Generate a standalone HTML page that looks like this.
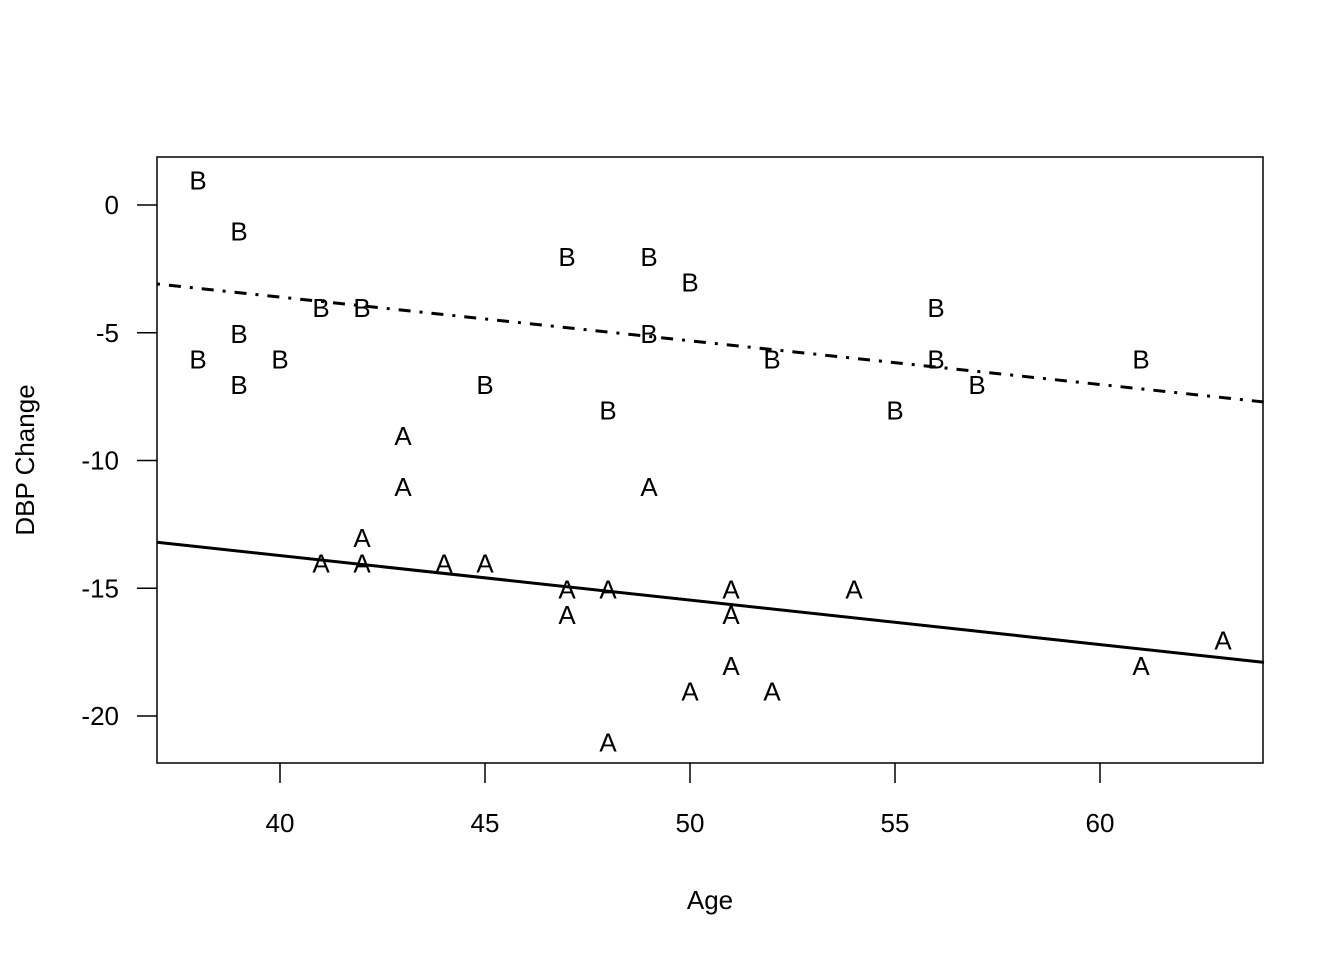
<!DOCTYPE html>
<html><head><meta charset="utf-8"><style>body{margin:0;background:#fff}svg{display:block}text{font-family:"Liberation Sans",sans-serif;font-size:26px;fill:#000}</style></head>
<body>
<svg id="chart" width="1344" height="960" xmlns="http://www.w3.org/2000/svg">
<rect x="157" y="157" width="1106" height="606" fill="none" stroke="#000" stroke-width="1.5"/>
<g id="axes"></g>
<g id="marks"></g>
<text x="710" y="900" dominant-baseline="central" text-anchor="middle">Age</text>
<text transform="translate(25,460) rotate(-90)" dominant-baseline="central" text-anchor="middle">DBP Change</text>
</svg>
<script>
const groupBAges = [38,39,47,49,50,41,42,56,39,49,38,40,52,56,61,39,45,57,48,55];
const groupBValues = [1,-1,-2,-2,-3,-4,-4,-4,-5,-5,-6,-6,-6,-6,-6,-7,-7,-7,-8,-8];
const groupAAges = [43,43,49,42,41,42,44,45,47,48,51,54,47,51,63,51,61,50,52,48];
const groupAValues = [-9,-11,-11,-13,-14,-14,-14,-14,-15,-15,-15,-15,-16,-16,-17,-18,-18,-19,-19,-21];
const fitAEnds = [-13.2,-17.9];
const fitBEnds = [-3.09,-7.71];
const xTicks = [40,45,50,55,60];
const yTicks = [0,-5,-10,-15,-20];
const xMin = 37, xMax = 64;
const X = a => 280 + 41*(a-40);
const Y = v => 205 - 25.55*v;
const NS = "http://www.w3.org/2000/svg";
const axes = document.getElementById('axes'), marks = document.getElementById('marks');
function mk(tag, attrs, parent, txt){const e=document.createElementNS(NS,tag);for(const k in attrs)e.setAttribute(k,attrs[k]);if(txt!==undefined)e.textContent=txt;parent.appendChild(e);return e;}
xTicks.forEach(t=>{
  const l=mk('line',{x1:X(t),x2:X(t),y1:763,y2:783,stroke:'#000','stroke-width':1.5},axes);
  
  
  const s=mk('text',{x:X(t),y:823,'text-anchor':'middle','dominant-baseline':'central'},axes,String(t));
  
  
});
yTicks.forEach(t=>{
  const l=mk('line',{x1:137,x2:157,y1:Y(t),y2:Y(t),stroke:'#000','stroke-width':1.5},axes);
  
  
  const s=mk('text',{x:119,y:Y(t),'text-anchor':'end','dominant-baseline':'central'},axes,String(t));
  
  
});
const la=mk('line',{x1:X(xMin),y1:Y(fitAEnds[0]),x2:X(xMax),y2:Y(fitAEnds[1]),stroke:'#000','stroke-width':3},marks);


const lb=mk('line',{x1:X(xMin),y1:Y(fitBEnds[0]),x2:X(xMax),y2:Y(fitBEnds[1]),stroke:'#000','stroke-width':3,'stroke-dasharray':'3,9,12,9'},marks);


groupBAges.forEach((a,i)=>{
  const t=mk('text',{x:X(a),y:Y(groupBValues[i])+1,'text-anchor':'middle','dominant-baseline':'central'},marks,'B');
  
  
});
groupAAges.forEach((a,i)=>{
  const t=mk('text',{x:X(a),y:Y(groupAValues[i])+1,'text-anchor':'middle','dominant-baseline':'central'},marks,'A');
  
  
});
</script>
</body></html>
